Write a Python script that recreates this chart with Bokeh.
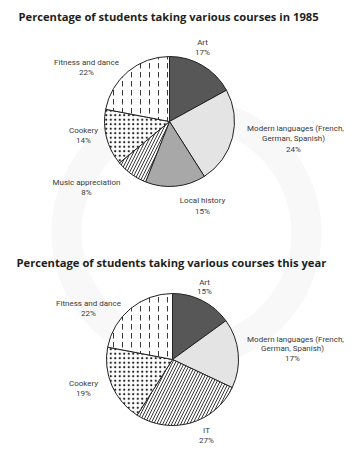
import math
from bokeh.plotting import figure
from bokeh.models import Range1d, ColumnDataSource
from bokeh.core.properties import value
from bokeh.embed import file_html
from bokeh.resources import INLINE

# ---- data ----
cats_1985 = ["Art", "Modern languages", "Local history", "Music appreciation", "Cookery", "Fitness and dance"]
vals_1985 = [17, 24, 15, 8, 14, 22]
cats_now = ["Art", "Modern languages", "IT", "Cookery", "Fitness and dance"]
vals_now = [15, 17, 27, 19, 22]

title_1985 = "Percentage of students taking various courses in 1985"
title_now = "Percentage of students taking various courses this year"

# ---- style per category ----
style = {
    "Art": dict(fill="#575757", hatch=" ", scale=6, w=0.9),
    "Modern languages": dict(fill="#e4e4e4", hatch=" ", scale=6, w=0.9),
    "Local history": dict(fill="#a8a8a8", hatch=" ", scale=6, w=0.9),
    "Music appreciation": dict(fill="white", hatch="/", scale=6, w=0.9),
    "Cookery": dict(fill="white", hatch=".", scale=4.5, w=0.6),
    "Fitness and dance": dict(fill="white", hatch=":", scale=9, w=0.9),
    "IT": dict(fill="white", hatch="/", scale=6, w=0.9),
}

W, H = 344, 445
IMG_H = 461

def Y(img_y):
    return IMG_H - img_y

p = figure(width=W, height=H, output_backend="svg", toolbar_location=None,
           x_range=Range1d(0, W), y_range=Range1d(Y(H), Y(0)),
           min_border=0, match_aspect=False)
p.axis.visible = False
p.grid.visible = False
p.outline_line_color = None
p.background_fill_color = "white"

# faint watermark
p.annular_wedge(x=[186], y=[Y(232)], inner_radius=105, outer_radius=135,
                start_angle=math.radians(-70), end_angle=math.radians(250),
                fill_color="#f8f8f8", line_color=None)

def draw_pie(cats, vals, cx, cy, r):
    total = sum(vals)
    starts, ends, fills, hatches, scales, weights = [], [], [], [], [], []
    acc = 0
    for c, v in zip(cats, vals):
        a0 = math.pi / 2 - 2 * math.pi * acc / total
        acc += v
        a1 = math.pi / 2 - 2 * math.pi * acc / total
        starts.append(a0)
        ends.append(a1)
        fills.append(style[c]["fill"])
        hatches.append(style[c]["hatch"])
        scales.append(style[c]["scale"])
        weights.append(style[c]["w"])
    src = ColumnDataSource(dict(x=[cx] * len(cats), y=[Y(cy)] * len(cats),
                                s=starts, e=ends, f=fills, h=hatches, hs=scales, hw=weights))
    p.wedge(x="x", y="y", radius=r, start_angle="s", end_angle="e",
            direction="clock", source=src, fill_color="f",
            hatch_pattern="h", hatch_color="#222222", hatch_weight="hw",
            hatch_scale="hs", line_color="#222222", line_width=1)

draw_pie(cats_1985, vals_1985, 169, 121, 65)
draw_pie(cats_now, vals_now, 172, 359, 66)

# labels
def label(x, img_y, txt, size="8px", bold=False, color="#3a3a3a", align="center", font="Roboto"):
    p.text(x=[x], y=[Y(img_y)], text=[txt], text_font=value(font),
           text_font_size=size, text_align=align, text_baseline="middle",
           text_color=color, text_font_style="bold" if bold else "normal")

label(18, 16, title_1985, size="11.2px", bold=True, color="#1e1e1e", align="left", font="Open Sans")
label(16, 262, title_now, size="11.2px", bold=True, color="#1e1e1e", align="left", font="Open Sans")

labels_1985 = [
    (202, 42, cats_1985[0]), (202, 52, f"{vals_1985[0]}%"),
    (295, 128, "Modern languages (French,"), (293, 138, "German, Spanish)"), (293, 149, f"{vals_1985[1]}%"),
    (202, 200, cats_1985[2]), (202, 211, f"{vals_1985[2]}%"),
    (86, 182, cats_1985[3]), (86, 192, f"{vals_1985[3]}%"),
    (83, 130, cats_1985[4]), (83, 140, f"{vals_1985[4]}%"),
    (86, 62, cats_1985[5]), (86, 72, f"{vals_1985[5]}%"),
]
labels_now = [
    (204, 282, cats_now[0]), (204, 291, f"{vals_now[0]}%"),
    (295, 339, "Modern languages (French,"), (292, 348, "German, Spanish)"), (292, 358, f"{vals_now[1]}%"),
    (206, 430, cats_now[2]), (206, 440, f"{vals_now[2]}%"),
    (83, 383, cats_now[3]), (83, 393, f"{vals_now[3]}%"),
    (88, 303, cats_now[4]), (88, 313, f"{vals_now[4]}%"),
]
for x, yy, t in labels_1985 + labels_now:
    label(x, yy, t)

open("out.html", "w").write(file_html(p, INLINE))
